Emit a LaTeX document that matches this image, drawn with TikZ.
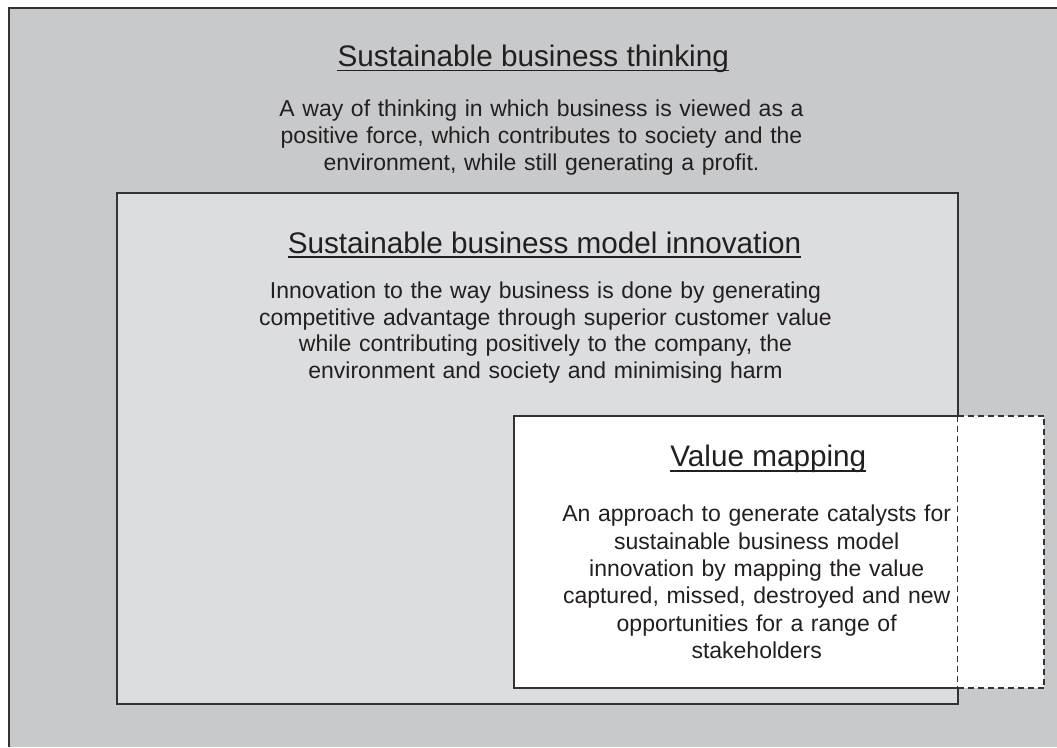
\documentclass[tikz,border=0pt]{standalone}
\usepackage{fontspec}
\setmainfont{Liberation Sans}
\definecolor{outergray}{HTML}{C8C9CB}
\definecolor{innergray}{HTML}{DCDDDF}
\definecolor{linecol}{HTML}{333333}
\definecolor{txtcol}{HTML}{231F20}
\tikzset{
  frame/.style={draw=linecol,line width=2pt},
  dashline/.style={draw=linecol,line width=1.8pt,dash pattern=on 6pt off 4pt},
  titletext/.style={inner sep=0pt,anchor=base,text=txtcol,font=\fontsize{29.7}{35}\selectfont},
  bodytext/.style={inner sep=0pt,anchor=base,text=txtcol,align=center,text width=700pt,font=\fontsize{23}{26.7}\selectfont},
  ul/.style={draw=txtcol,line width=1.8pt}
}
\begin{document}
\begin{tikzpicture}[x=1pt,y=-1pt]
\useasboundingbox (0,0) rectangle (1057,747);
% outer region
\fill[outergray] (9,8) rectangle (1057,747);
\draw[frame] (9,747) -- (9,8) -- (1057,8);
% inner box
\filldraw[fill=innergray,frame] (117,193) rectangle (957.5,703.5);
% value mapping box
\fill[white] (514.3,415.7) rectangle (1044.3,688.3);
\draw[frame,line width=1.8pt] (957.5,415.7) -- (514.3,415.7) -- (514.3,688.3) -- (957.5,688.3);
\draw[dashline] (957.5,415.7) -- (1044.3,415.7) -- (1044.3,688.3) -- (957.5,688.3);
\draw[dashline] (957.5,415.7) -- (957.5,688.3);
% texts
\node[titletext] (t1) at (533.3,66.7) {Sustainable business thinking};
\draw[ul] ([yshift=-3.8pt]t1.base west) -- ([yshift=-3.8pt]t1.base east);
\node[bodytext] (b1) at (541.5,116.7) {A way of thinking in which business is viewed as a\\positive force, which contributes to society and the\\environment, while still generating a profit.};
\node[titletext] (t2) at (544.5,253.3) {Sustainable business model innovation};
\draw[ul] ([yshift=-4pt]t2.base west) -- ([yshift=-4pt]t2.base east);
\node[bodytext] (b2) at (545.5,298.3) {Innovation to the way business is done by generating\\competitive advantage through superior customer value\\while contributing positively to the company, the\\environment and society and minimising harm};
\node[titletext] (t3) at (768.3,466.7) {Value mapping};
\draw[ul] ([yshift=-4.5pt]t3.base west) -- ([yshift=-4.5pt]t3.base east);
\node[bodytext,text width=420pt,font=\fontsize{23}{27.4}\selectfont] (b3) at (756.7,521.7) {An approach to generate catalysts for\\sustainable business model\\innovation by mapping the value\\captured, missed, destroyed and new\\opportunities for a range of\\stakeholders};
\end{tikzpicture}
\end{document}
